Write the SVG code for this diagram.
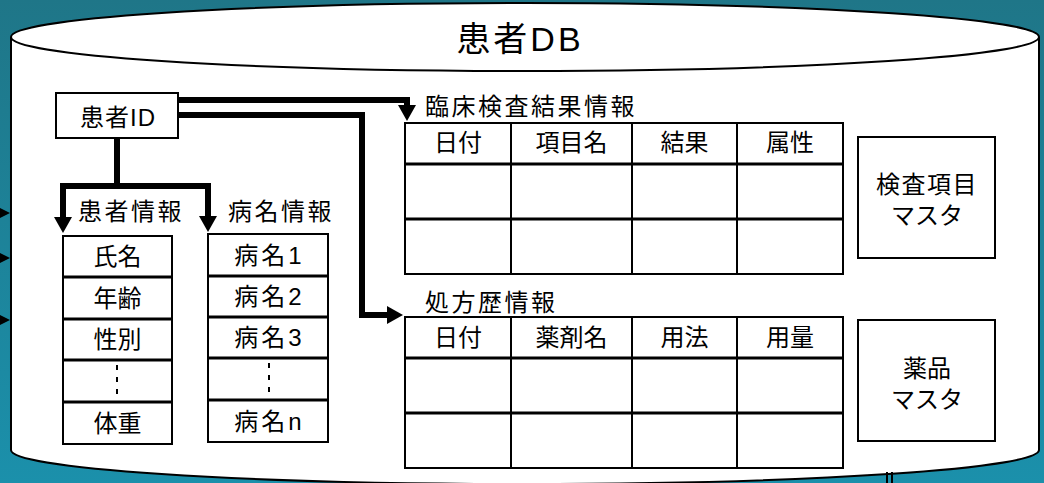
<svg xmlns="http://www.w3.org/2000/svg" width="1044" height="483" viewBox="0 0 1044 483">
<defs>
<linearGradient id="bg" x1="0" y1="0" x2="0" y2="1">
<stop offset="0" stop-color="#1f7688"/>
<stop offset="1" stop-color="#1b90ab"/>
</linearGradient>
<marker id="arr" viewBox="0 0 16 18" markerWidth="16" markerHeight="18" refX="0" refY="9" orient="auto" markerUnits="userSpaceOnUse">
<path d="M0,0 L16,9 L0,18 Z" fill="#000"/>
</marker>
<style>
text{font-family:"Liberation Sans","Noto Sans CJK JP",sans-serif;fill:#000;}
.t{font-size:24px;text-anchor:middle;}
.lb{font-size:24px;letter-spacing:2.5px;}
.sp{letter-spacing:3px;}
.bx{fill:#fff;stroke:#000;stroke-width:2;}
.ln{stroke:#000;stroke-width:2;fill:none;}
.hl{stroke:#000;stroke-width:3;fill:none;}
.dash{stroke:#000;stroke-width:2;stroke-dasharray:5 7;fill:none;}
.con{stroke:#000;stroke-width:6;fill:none;stroke-linejoin:miter;}
</style>
</defs>
<rect x="0" y="0" width="1044" height="483" fill="url(#bg)"/>
<g id="edge-arrows">
<polygon points="0,208 10,213 0,218" fill="#000"/>
<polygon points="0,253 10,258 0,263" fill="#000"/>
<polygon points="0,315 10,320 0,325" fill="#000"/>
</g>
<g id="cylinder">
<path d="M11,37 A514,34 0 0 1 1039,37 V450 A514,34 0 0 1 11,450 Z" fill="#fff" stroke="#000" stroke-width="2"/>
<path d="M11,37 A514,34 0 0 0 1039,37" fill="none" stroke="#000" stroke-width="2"/>
<text x="520" y="51" style="font-size:34px;text-anchor:middle;letter-spacing:3px;">患者DB</text>
</g>
<g id="marks">
<line x1="887" y1="472" x2="887" y2="483" class="ln"/>
<line x1="892" y1="472" x2="892" y2="483" class="ln"/>
</g>
<g id="connectors">
<path class="con" d="M178,100 H407 V105" marker-end="url(#arr)"/>
<path class="con" d="M178,115 H362 V315 H387" marker-end="url(#arr)"/>
<path class="con" d="M117,138 V186 H63 V217" marker-end="url(#arr)"/>
<path class="con" d="M117,186 H208 V216" marker-end="url(#arr)"/>
</g>
<g id="patient-id">
<rect x="56" y="93" width="122" height="45" class="bx"/>
<text x="118" y="126" class="t" style="letter-spacing:1px;">患者ID</text>
</g>
<g id="patient-info">
<text x="78" y="220" class="lb">患者情報</text>
<rect x="63" y="236" width="109" height="208" class="bx"/>
<line x1="63" y1="277" x2="172" y2="277" class="hl"/>
<line x1="63" y1="319" x2="172" y2="319" class="hl"/>
<line x1="63" y1="360" x2="172" y2="360" class="hl"/>
<line x1="63" y1="402" x2="172" y2="402" class="hl"/>
<text x="117.5" y="265" class="t">氏名</text>
<text x="117.5" y="306.5" class="t">年齢</text>
<text x="117.5" y="348" class="t">性別</text>
<line x1="117" y1="365" x2="117" y2="397" class="dash"/>
<text x="117.5" y="431.5" class="t">体重</text>
</g>
<g id="disease-info">
<text x="228" y="220" class="lb">病名情報</text>
<rect x="208" y="234" width="120" height="208" class="bx"/>
<line x1="208" y1="276" x2="328" y2="276" class="hl"/>
<line x1="208" y1="317" x2="328" y2="317" class="hl"/>
<line x1="208" y1="358" x2="328" y2="358" class="hl"/>
<line x1="208" y1="400" x2="328" y2="400" class="hl"/>
<text x="269.5" y="263.5" class="t sp">病名1</text>
<text x="269.5" y="305" class="t sp">病名2</text>
<text x="269.5" y="346" class="t sp">病名3</text>
<line x1="269" y1="363" x2="269" y2="395" class="dash"/>
<text x="269.5" y="430" class="t sp">病名n</text>
</g>
<g id="lab-results">
<text x="425" y="115" class="lb">臨床検査結果情報</text>
<rect x="405" y="123" width="438" height="151" class="bx"/>
<line x1="405" y1="164" x2="843" y2="164" class="hl"/>
<line x1="405" y1="219" x2="843" y2="219" class="hl"/>
<line x1="511" y1="123" x2="511" y2="274" class="ln"/>
<line x1="632" y1="123" x2="632" y2="274" class="ln"/>
<line x1="737" y1="123" x2="737" y2="274" class="ln"/>
<text x="458" y="151" class="t">日付</text>
<text x="571.5" y="151" class="t">項目名</text>
<text x="684.5" y="151" class="t">結果</text>
<text x="790" y="151" class="t">属性</text>
</g>
<g id="prescription">
<text x="425" y="311" class="lb">処方歴情報</text>
<rect x="405" y="317" width="438" height="151" class="bx"/>
<line x1="405" y1="358" x2="843" y2="358" class="hl"/>
<line x1="405" y1="413" x2="843" y2="413" class="hl"/>
<line x1="511" y1="317" x2="511" y2="468" class="ln"/>
<line x1="632" y1="317" x2="632" y2="468" class="ln"/>
<line x1="737" y1="317" x2="737" y2="468" class="ln"/>
<text x="458" y="346" class="t">日付</text>
<text x="571.5" y="346" class="t">薬剤名</text>
<text x="684.5" y="346" class="t">用法</text>
<text x="790" y="346" class="t">用量</text>
</g>
<g id="test-master">
<rect x="858" y="137" width="137" height="121" class="bx"/>
<text x="927" y="193" class="t" style="letter-spacing:1.5px;">検査項目</text>
<text x="927" y="224" class="t">マスタ</text>
</g>
<g id="drug-master">
<rect x="858" y="320" width="137" height="121" class="bx"/>
<text x="927" y="377" class="t">薬品</text>
<text x="927" y="408" class="t">マスタ</text>
</g>
</svg>
